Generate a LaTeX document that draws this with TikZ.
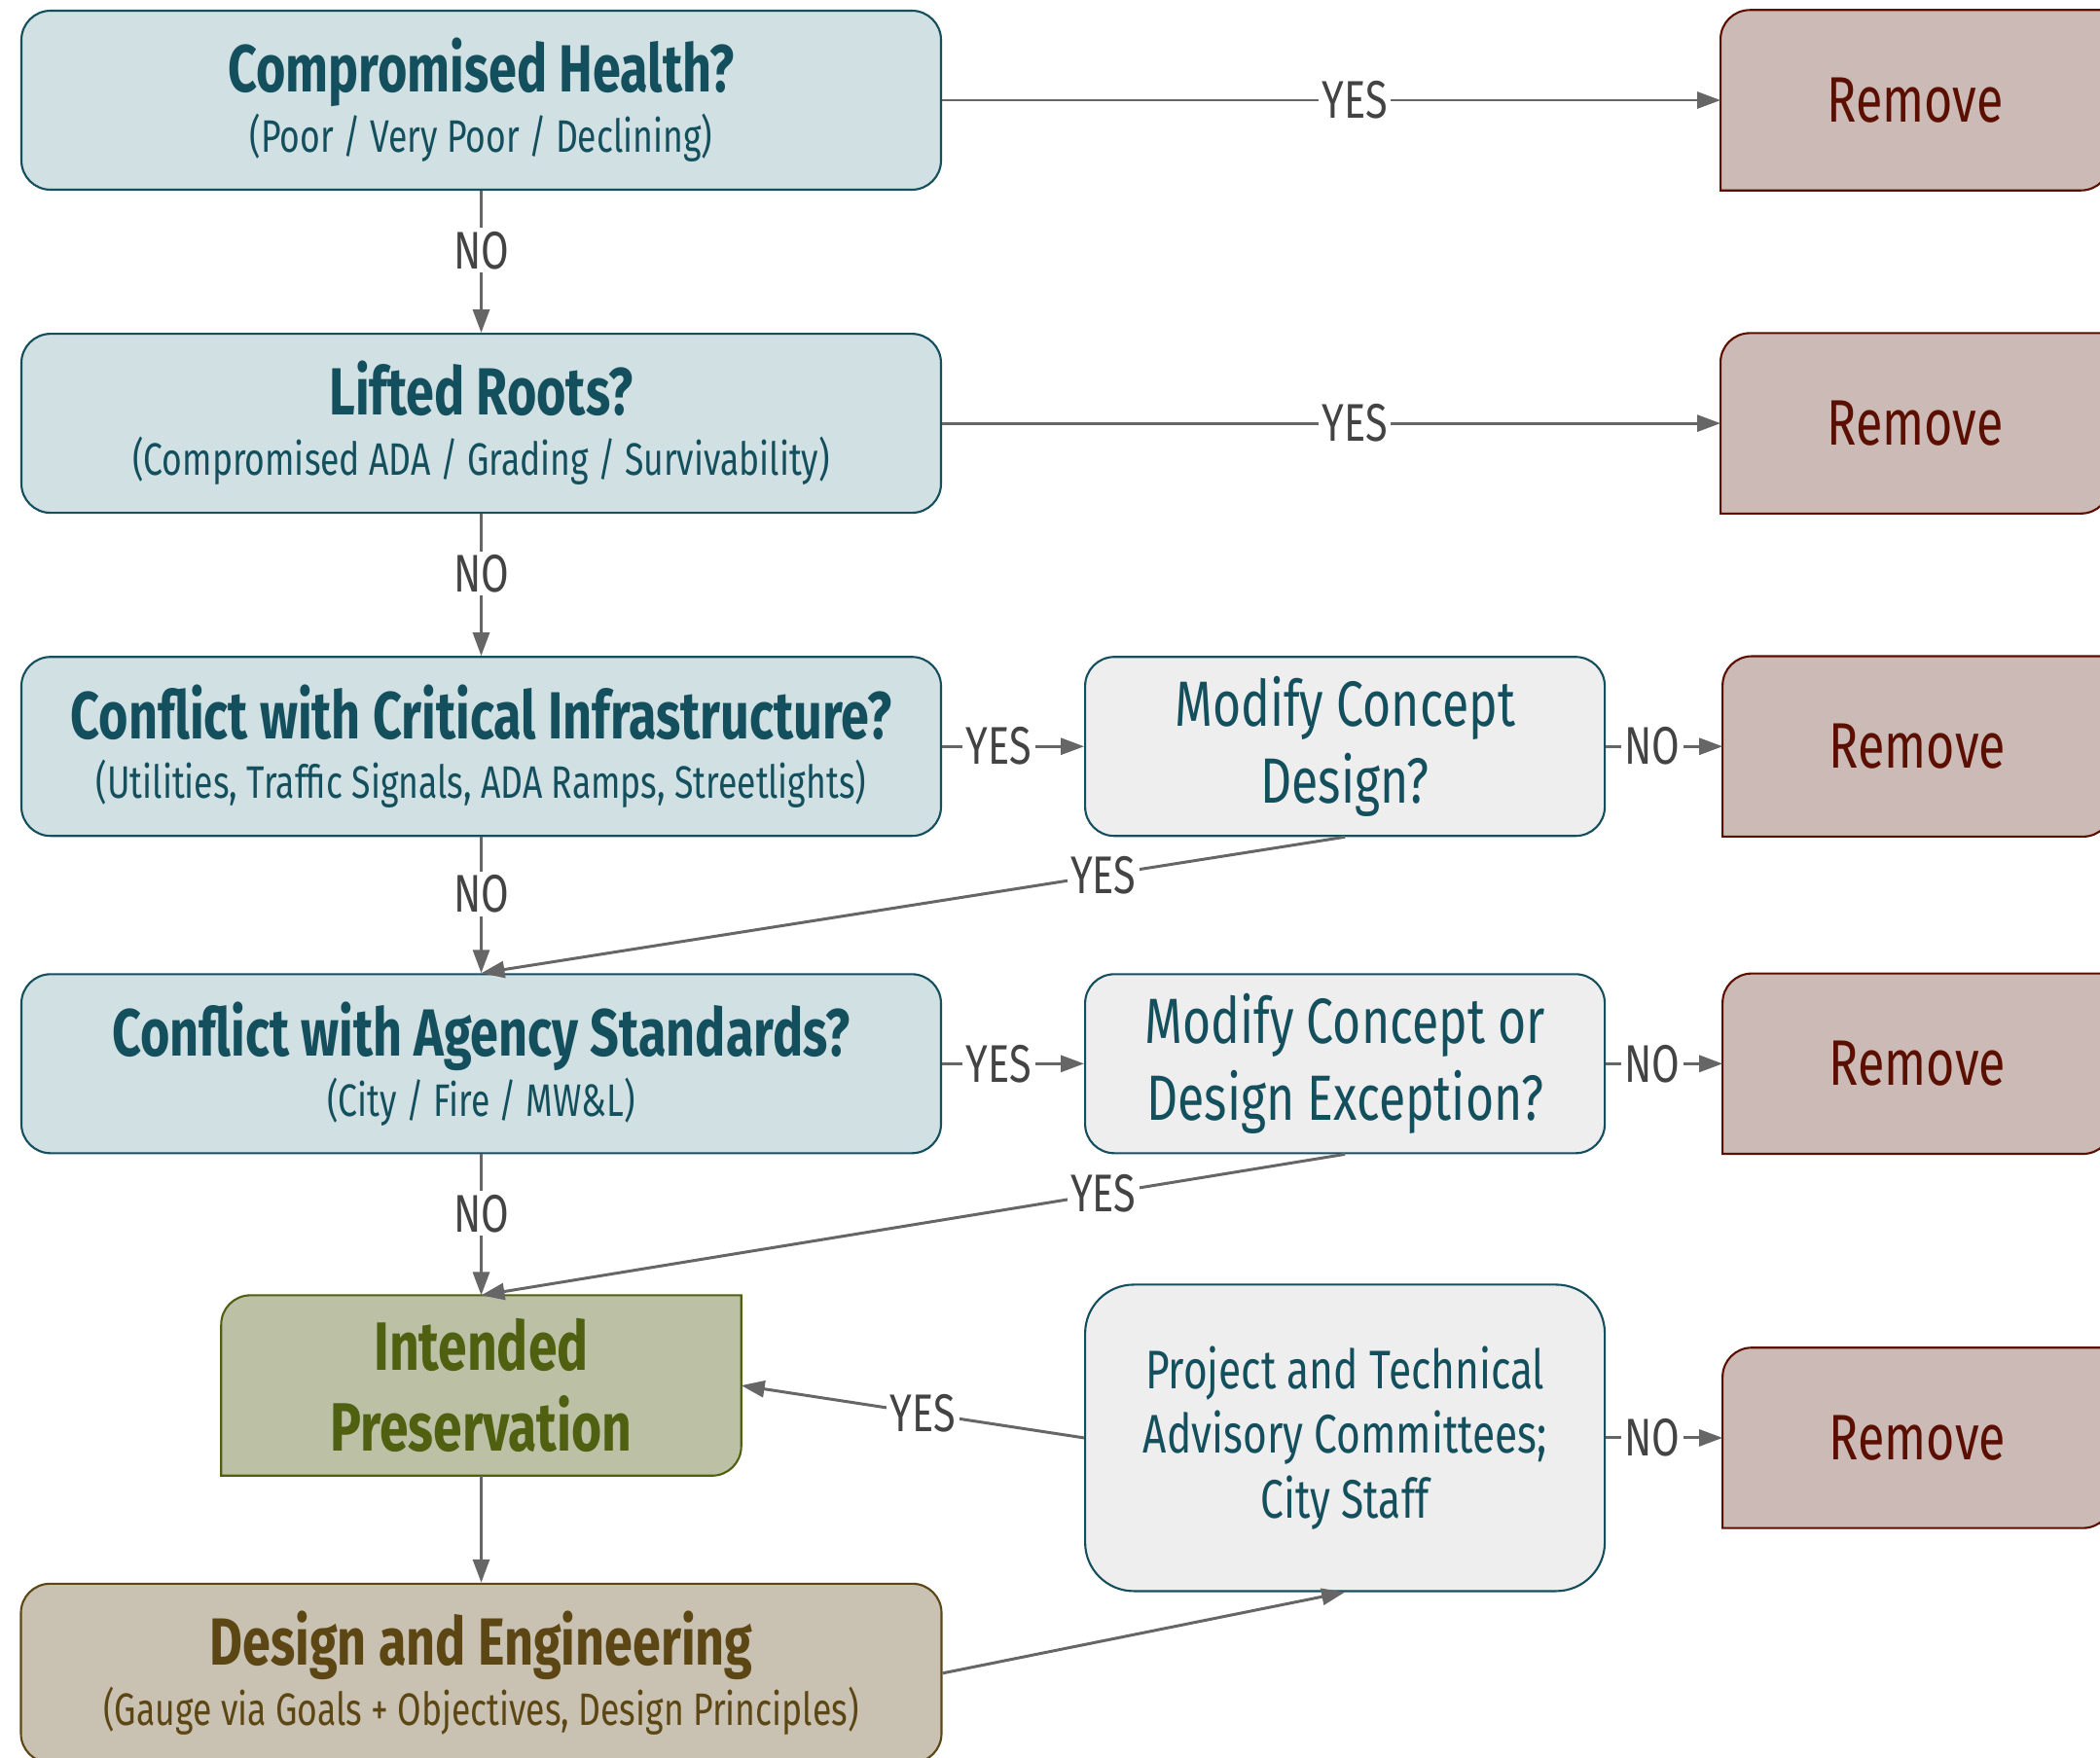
\documentclass[tikz,border=0pt]{standalone}
\usepackage{fontspec}
\setmainfont{Fira Sans}[FakeStretch=0.76]
\usepackage{xcolor}
\usepackage{tikz}
\usetikzlibrary{positioning,arrows.meta,backgrounds,calc}

\definecolor{tealdark}{HTML}{134F5C}
\definecolor{tealfill}{HTML}{D0E0E3}
\definecolor{greyfill}{HTML}{EEEEEE}
\definecolor{berrydark}{HTML}{5B0F00}
\definecolor{berryfill}{HTML}{CCBAB6}
\definecolor{olivedark}{HTML}{4F6011}
\definecolor{olivefill}{HTML}{BCC1A6}
\definecolor{browndark}{HTML}{5C4614}
\definecolor{brownfill}{HTML}{C9C1B1}
\definecolor{linegrey}{HTML}{666666}
\definecolor{labelgrey}{HTML}{434343}

\newcommand{\qtitle}{\fontsize{19.5}{23}\selectfont\bfseries}
\newcommand{\qsub}{\fontsize{13.3}{17.6}\selectfont}
\newcommand{\modfont}{\fontsize{18.7}{22.5}\selectfont}
\newcommand{\panelfont}{\fontsize{15.9}{19}\selectfont}
\newcommand{\remfont}{\fontsize{18.8}{23}\selectfont}
\newcommand{\keepfont}{\fontsize{20}{23.5}\selectfont\bfseries}
\newcommand{\answerfont}{\fontsize{15.5}{18}\selectfont}

% box with rounded top-left and bottom-right corners only
\newcommand{\twocorners}[2]{%
  \draw[#2] (#1.south west) -- ([yshift=-0.3cm]#1.north west)
    arc[start angle=180, end angle=90, radius=0.3cm] -- (#1.north east)
    -- ([yshift=0.3cm]#1.south east)
    arc[start angle=0, end angle=-90, radius=0.3cm] -- cycle;}

\begin{document}
\begin{tikzpicture}[node distance=1.46cm, >={Triangle[length=0.24cm,width=0.17cm]}]
    \tikzstyle{question} = [rectangle, rounded corners=0.3cm, draw=tealdark, fill=tealfill, line width=0.6pt, text=tealdark, minimum width=9.45cm, minimum height=1.84cm, align=center, font=\qsub]
    \tikzstyle{modify} = [rectangle, rounded corners=0.3cm, draw=tealdark, fill=greyfill, line width=0.6pt, text=tealdark, minimum width=5.34cm, minimum height=1.84cm, align=center, font=\modfont]
    \tikzstyle{remove} = [rectangle, minimum width=3.99cm, minimum height=1.84cm, text=berrydark, font=\remfont]
    \tikzstyle{keep} = [rectangle, minimum width=5.33cm, minimum height=1.84cm, text=olivedark, align=center, font=\keepfont]
    \tikzstyle{arrow} = [draw=linegrey, line width=0.85pt, ->]
    \tikzstyle{answer} = [fill=white, text=labelgrey, font=\answerfont, inner sep=1pt]

    \useasboundingbox (0,0) rectangle (21.58,-18.07);

    % left column
    \node [question] (health) at (4.945,-1.03) {{\qtitle Compromised Health?}\\(Poor / Very Poor / Declining)};
    \node [question, below=of health] (roots) {{\qtitle Lifted Roots?}\\(Compromised ADA / Grading / Survivability)};
    \node [question, below=of roots] (infra) {{\qtitle Conflict with Critical Infrastructure?}\\(Utilities, Traffic Signals, ADA Ramps, Streetlights)};
    \node [question, below=1.40cm of infra] (agency) {{\qtitle Conflict with Agency Standards?}\\(City / Fire / MW\&L)};
    \node [keep, below=1.45cm of agency] (preserve) {Intended\\Preservation};
    \node [question, draw=browndark, fill=brownfill, text=browndark, minimum width=9.46cm, below=1.10cm of preserve] (design) {{\qtitle Design and Engineering}\\(Gauge via Goals + Objectives, Design Principles)};

    % middle column
    \node [modify, right=of infra] (modify1) {Modify Concept\\Design?};
    \node [modify, right=of agency] (modify2) {Modify Concept or\\Design Exception?};
    \node [modify, below=1.33cm of modify2, minimum height=3.15cm, rounded corners=0.5cm, font=\panelfont] (panel) {Project and Technical\\Advisory Committees;\\City Staff};

    % right column
    \node [remove, right=8cm of health] (remove1) {Remove};
    \node [remove, right=8cm of roots] (remove2) {Remove};
    \node [remove, right=1.2cm of modify1] (remove3) {Remove};
    \node [remove, right=1.2cm of modify2] (remove4) {Remove};
    \node [remove, right=1.2cm of panel] (remove5) {Remove};

    \begin{pgfonlayer}{background}
        \foreach \n in {remove1,remove2,remove3,remove4,remove5} {
            \twocorners{\n}{draw=berrydark, fill=berryfill, line width=0.6pt}
        }
        \twocorners{preserve}{draw=olivedark, fill=olivefill, line width=0.6pt}
    \end{pgfonlayer}

    % connectors
    \draw [arrow] (health) -- node[answer, pos=0.53] {YES} (remove1);
    \draw [arrow] (health) -- node[answer, pos=0.42] {NO} (roots);
    \draw [arrow] (roots) -- node[answer, pos=0.53] {YES} (remove2);
    \draw [arrow] (roots) -- node[answer, pos=0.42] {NO} (infra);
    \draw [arrow] (infra) -- node[answer, pos=0.4] {YES} (modify1);
    \draw [arrow] (modify1) -- node[answer, pos=0.4] {NO} (remove3);
    \draw [arrow] (modify1.south) -- node[answer, pos=0.28] {YES} (agency.north);
    \draw [arrow] (infra) -- node[answer, pos=0.42] {NO} (agency);
    \draw [arrow] (agency) -- node[answer, pos=0.4] {YES} (modify2);
    \draw [arrow] (modify2) -- node[answer, pos=0.4] {NO} (remove4);
    \draw [arrow] (modify2.south) -- node[answer, pos=0.28] {YES} (preserve.north);
    \draw [arrow] (agency) -- node[answer, pos=0.42] {NO} (preserve);
    \draw [arrow] (panel.west) -- node[answer, pos=0.47] {YES} (preserve.east);
    \draw [arrow] (panel) -- node[answer, pos=0.4] {NO} (remove5);
    \draw [arrow] (preserve) -- (design);
    \draw [arrow] (design.east) -- (panel.south);
\end{tikzpicture}
\end{document}
